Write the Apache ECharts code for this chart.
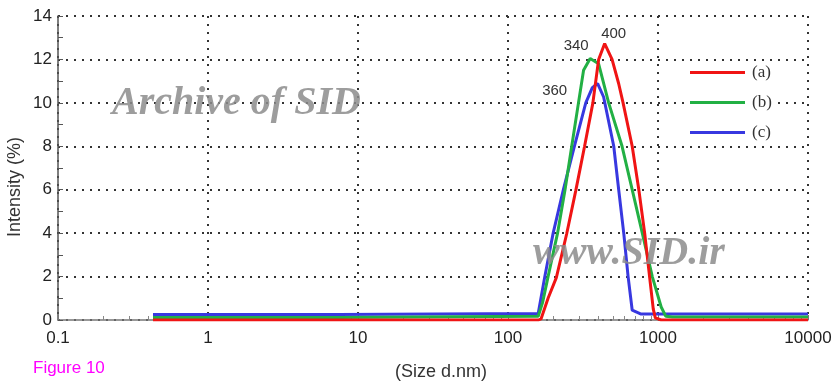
<!DOCTYPE html>
<html>
<head>
<meta charset="utf-8">
<script src="https://cdn.jsdelivr.net/npm/echarts@6/dist/echarts.min.js"></script>
<style>html,body{margin:0;padding:0;background:#fff;}#c{width:840px;height:389px;}</style>
</head>
<body>
<div id="c"></div>
<script>
// ---- data ----
const seriesNames = ['(a)', '(b)', '(c)'];
const aSize = [0.43, 7.4, 160, 166, 185, 210, 246, 283, 324, 368, 402, 441, 494, 547, 585, 673, 745, 815, 880, 930, 960, 1050, 10000];
const aIntensity = [0, 0, 0, 0.05, 1.0, 1.95, 3.96, 5.96, 8.0, 10.0, 12.0, 12.73, 12.0, 10.88, 10.0, 8.0, 6.0, 4.0, 1.95, 0.5, 0.1, 0, 0];
const bSize = [0.43, 7.4, 7.6, 159, 170, 185, 214, 240, 266, 295, 319, 353, 402, 469, 576, 673, 786, 916, 1050, 1128, 1250, 10000];
const bIntensity = [0.12, 0.12, 0.17, 0.17, 0.8, 2.0, 4.0, 6.0, 8.0, 10.0, 11.5, 12.04, 11.8, 10.0, 8.0, 6.0, 4.0, 2.0, 0.6, 0.17, 0.14, 0.14];
const cSize = [0.43, 7.4, 7.6, 159, 176, 200, 234, 277, 330, 365, 396, 434, 507, 547, 591, 632, 673, 765, 10000];
const cIntensity = [0.25, 0.25, 0.3, 0.3, 2.0, 4.0, 6.0, 8.0, 10.0, 10.7, 10.89, 10.27, 8.0, 6.0, 4.0, 2.0, 0.45, 0.28, 0.28];
const peakLabels = ['400', '340', '360'];
const peakSize = [441, 353, 396];
const peakIntensity = [12.73, 12.04, 10.89];
const yTicks = [0, 2, 4, 6, 8, 10, 12, 14];
const xTickLabels = ['0.1', '1', '10', '100', '1000', '10000'];

const colors = ['#f01414', '#22b044', '#3838e0'];
const labelOffsets = [[9, -10], [-14, -13], [-43, 7]];
const sizes = [aSize, bSize, cSize];
const vals = [aIntensity, bIntensity, cIntensity];

const chart = echarts.init(document.getElementById('c'), null, {renderer: 'canvas'});
const dotted = {color: '#333', width: 2, type: [2, 6]};
const series = seriesNames.map((n, i) => ({
  name: n,
  type: 'line',
  data: sizes[i].map((x, j) => [x, vals[i][j]]),
  showSymbol: false,
  symbol: 'none',
  z: 3 - i + 2,
  lineStyle: {color: colors[i], width: 3},
  itemStyle: {color: colors[i]},
  markPoint: {
    symbol: 'circle', symbolSize: 0,
    label: {show: true, position: 'inside', offset: labelOffsets[i], formatter: peakLabels[i],
      color: '#333', fontSize: 15, fontFamily: 'Liberation Sans'},
    data: [{coord: [peakSize[i], peakIntensity[i]]}]
  }
}));

chart.setOption({
  animation: false,
  backgroundColor: '#fff',
  grid: {left: 58, right: 32, top: 16, bottom: 69},
  xAxis: {
    type: 'log', logBase: 10, min: 0.1, max: 10000,
    name: '(Size d.nm)', nameLocation: 'middle', nameGap: 43,
    nameTextStyle: {fontSize: 18, color: '#333', fontFamily: 'Liberation Sans', padding: [0, 0, 0, 16]},
    axisLine: {lineStyle: {color: '#777', width: 1.5}},
    axisTick: {show: true, inside: true, length: 5, lineStyle: {color: '#777'}},
    minorTick: {show: true, splitNumber: 9, length: 4, lineStyle: {color: '#888'}},
    axisLabel: {fontSize: 17, color: '#222', fontFamily: 'Liberation Sans', margin: 10,
      formatter: function (v) { const s = String(v); return xTickLabels.indexOf(s) >= 0 ? s : (v < 1 ? String(Number(v.toFixed(1))) : s); }},
    splitLine: {show: true, lineStyle: dotted}
  },
  yAxis: {
    type: 'value', min: 0, max: 14, interval: 2,
    axisLine: {show: true, lineStyle: {color: '#555', width: 1.5}},
    axisTick: {show: true, inside: true, length: 5, lineStyle: {color: '#555'}},
    minorTick: {show: true, splitNumber: 2, length: 5, lineStyle: {color: '#555'}},
    axisLabel: {fontSize: 17, color: '#222', fontFamily: 'Liberation Sans', margin: 6,
      formatter: v => (yTicks.indexOf(v) >= 0 ? String(v) : '')},
    splitLine: {show: true, lineStyle: dotted}
  },
  legend: {
    data: seriesNames, orient: 'vertical', left: 687, top: 61,
    icon: 'rect', itemWidth: 55, itemHeight: 3, itemGap: 13,
    backgroundColor: '#fff', padding: [3, 3, 3, 3],
    textStyle: {fontSize: 17, color: '#333', fontFamily: 'Liberation Serif', padding: [0, 0, 0, 2]}
  },
  graphic: [
    {type: 'text', z: 10,
      style: {text: 'Intensity (%)', fontSize: 18, fill: '#333', fontFamily: 'Liberation Sans', align: 'center', verticalAlign: 'middle'},
      x: 15, y: 187, rotation: Math.PI / 2},
    {type: 'text', left: 33, top: 360, z: 10,
      style: {text: 'Figure 10', fontSize: 17, fill: '#ff00ff', fontFamily: 'Liberation Sans'}},
    {type: 'text', left: 112, top: 84, z: 10,
      style: {text: 'Archive of SID', font: 'italic bold 40px "Liberation Serif"', fill: 'rgba(140,140,140,0.85)'}},
    {type: 'text', left: 533, top: 234, z: 10,
      style: {text: 'www.SID.ir', font: 'italic bold 40px "Liberation Serif"', fill: 'rgba(140,140,140,0.85)'}}
  ],
  series: series
});
</script>
</body>
</html>
